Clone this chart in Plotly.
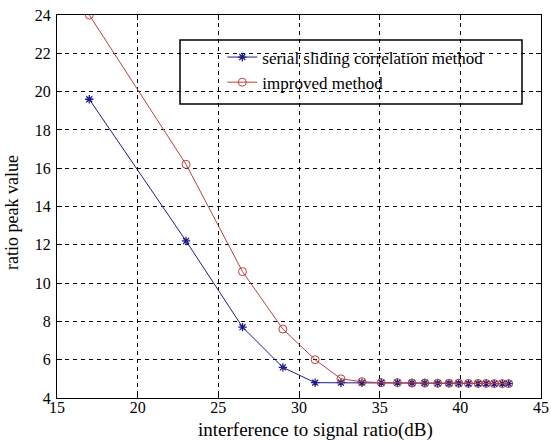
import plotly.graph_objects as go

x_jsr = [17.0, 23.0, 26.5, 29.0, 31.0, 32.6, 33.9, 35.1, 36.1, 37.0,
         37.8, 38.6, 39.3, 39.9, 40.5, 41.1, 41.6, 42.1, 42.6, 43.0]
serial_sliding = [19.6, 12.2, 7.7, 5.6, 4.8, 4.8, 4.8, 4.8, 4.8, 4.78,
                  4.78, 4.77, 4.77, 4.77, 4.76, 4.76, 4.76, 4.75, 4.75, 4.75]
improved = [24.0, 16.2, 10.6, 7.6, 6.0, 5.0, 4.85, 4.8, 4.8, 4.78,
            4.78, 4.77, 4.77, 4.77, 4.76, 4.76, 4.76, 4.75, 4.75, 4.75]

x_ticks = [15, 20, 25, 30, 35, 40, 45]
y_ticks = [4, 6, 8, 10, 12, 14, 16, 18, 20, 22, 24]

x_title = "interference to signal ratio(dB)"
y_title = "ratio peak value"

FONT = "Liberation Serif, Times New Roman, serif"
BLUE = "#1c1c8a"
RED = "#b8433c"

fig = go.Figure()
fig.add_trace(go.Scatter(
    x=x_jsr, y=serial_sliding, mode="lines+markers",
    name="serial sliding correlation method",
    line=dict(color=BLUE, width=1),
    marker=dict(symbol="asterisk-open", size=7, color=BLUE,
                line=dict(color=BLUE, width=1.3)),
))
fig.add_trace(go.Scatter(
    x=x_jsr, y=improved, mode="lines+markers",
    name="improved method",
    line=dict(color=RED, width=1),
    marker=dict(symbol="circle-open", size=8, color=RED,
                line=dict(color=RED, width=1)),
))

axis_common = dict(
    showline=True, linecolor="black", linewidth=1, mirror="ticks",
    ticks="inside", ticklen=5, tickcolor="black",
    showgrid=True, gridcolor="black", gridwidth=1, griddash="4px,4px",
    zeroline=False, automargin=False,
    tickfont=dict(family=FONT, size=16, color="black"),
)

fig.update_xaxes(range=[15, 45], tickvals=x_ticks, ticklabelstandoff=-5,
                 **axis_common)
fig.update_yaxes(range=[4, 24], tickvals=y_ticks, ticklabelstandoff=2,
                 **axis_common)

PW, PH, L, T = 484, 383, 57, 15

fig.update_layout(
    width=551, height=441,
    margin=dict(l=57, r=10, t=15, b=43),
    paper_bgcolor="white", plot_bgcolor="white",
    showlegend=True,
    legend=dict(x=0.3415, y=0.936, xanchor="left", yanchor="top",
                bgcolor="rgba(0,0,0,0)", borderwidth=0,
                font=dict(family=FONT, size=17, color="black"),
                tracegroupgap=0, itemwidth=30),
    annotations=[
        dict(text=x_title, xref="paper", yref="paper",
             x=(315 - L) / PW, y=(398 - 430) / PH,
             xanchor="center", yanchor="middle", showarrow=False,
             font=dict(family=FONT, size=19, color="black")),
        dict(text=y_title, xref="paper", yref="paper",
             x=(12 - L) / PW, y=(398 - 213) / PH, textangle=-90,
             xanchor="center", yanchor="middle", showarrow=False,
             font=dict(family=FONT, size=18, color="black")),
    ],
)
fig.add_shape(type="rect", xref="paper", yref="paper",
              x0=(180 - L) / PW, x1=(522 - L) / PW,
              y0=(398 - 104) / PH, y1=(398 - 40) / PH,
              line=dict(color="black", width=1.5),
              fillcolor="white", layer="below")

fig.write_html(
    "out.html",
    config={"displayModeBar": False},
    post_script="document.body.style.margin='0';"
                "document.body.style.overflow='hidden';",
)
